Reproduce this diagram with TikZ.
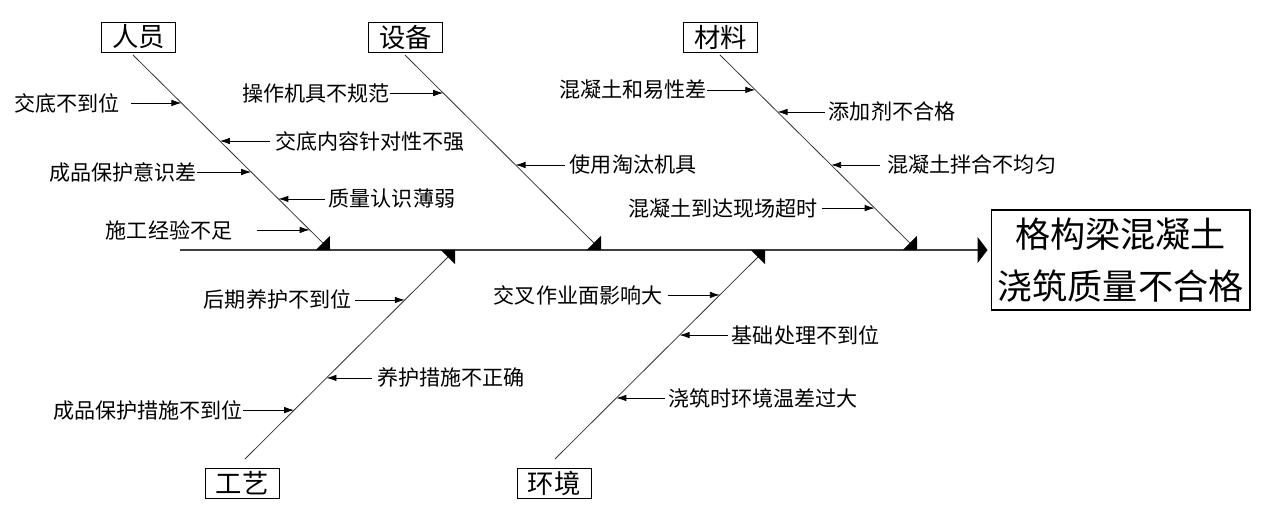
\documentclass[tikz,border=0pt]{standalone}
\usepackage{fontspec}
\setmainfont{Noto Sans CJK SC}
\usetikzlibrary{arrows.meta,positioning}

\begin{document}
\begin{tikzpicture}[x=0.02cm,y=-0.02cm,
  cat/.style={rectangle,draw,line width=0.5pt,minimum width=1.48cm,minimum height=0.6cm,inner sep=0pt,font=\fontsize{15pt}{18pt}\selectfont},
  cause/.style={inner sep=0pt,font=\fontsize{12pt}{14pt}\selectfont},
  effect/.style={rectangle,draw,line width=0.6pt,minimum width=5.18cm,minimum height=2cm,inner sep=0pt,align=center,font=\fontsize{20pt}{29.5pt}\selectfont},
  bone/.style={line width=0.45pt,black!80,-{Triangle[length=0.2cm,width=0.4cm,color=black]}},
  arr/.style={-{Latex[length=0.2cm,width=0.13cm]},line width=0.45pt},
  spine/.style={line width=0.8pt,black!75,-{Triangle[length=0.2cm,width=0.52cm,color=black]},shorten >=0.06cm}
]
\useasboundingbox (0,0) rectangle (1267,511);
\node[effect] (eff) at (1120.5,260) {格构梁混凝土\\浇筑质量不合格};
\coordinate (sp) at (180,250);
\draw[spine] (sp) -- (eff.west |- sp);

\node[cat] (ry) at (138.5,37) {人员};
\node[cat] (sb) at (405.5,37) {设备};
\node[cat] (cl) at (720.5,37) {材料};
\node[cat] (gy) at (242,483) {工艺};
\node[cat] (hj) at (554,483) {环境};

\coordinate (ry0) at (133,55);
\coordinate (ry1) at (330,250);
\coordinate (sb0) at (405,55);
\coordinate (sb1) at (601,250);
\coordinate (cl0) at (720,55);
\coordinate (cl1) at (917,250);
\coordinate (gy0) at (245,459);
\coordinate (gy1) at (455,250);
\coordinate (hj0) at (555,459);
\coordinate (hj1) at (765,250);

\draw[bone] (ry0) -- (ry1) coordinate[pos=0.246] (ry-a) coordinate[pos=0.441] (ry-b)
  coordinate[pos=0.6] (ry-c) coordinate[pos=0.738] (ry-d) coordinate[pos=0.897] (ry-e);
\draw[bone] (sb0) -- (sb1) coordinate[pos=0.195] (sb-a) coordinate[pos=0.564] (sb-b);
\draw[bone] (cl0) -- (cl1) coordinate[pos=0.179] (cl-a) coordinate[pos=0.292] (cl-b)
  coordinate[pos=0.564] (cl-c) coordinate[pos=0.785] (cl-d);
\draw[bone] (gy0) -- (gy1) coordinate[pos=0.761] (gy-a) coordinate[pos=0.388] (gy-b)
  coordinate[pos=0.234] (gy-c);
\draw[bone] (hj0) -- (hj1) coordinate[pos=0.785] (hj-a) coordinate[pos=0.593] (hj-b)
  coordinate[pos=0.292] (hj-c);

\node[cause, left=1.23cm of ry-a] (ry-ta) {交底不到位};
\node[cause, right=1.1cm of ry-b] (ry-tb) {交底内容针对性不强};
\node[cause, left=1.08cm of ry-c] (ry-tc) {成品保护意识差};
\node[cause, right=1.0cm of ry-d] (ry-td) {质量认识薄弱};
\node[cause, left=1.54cm of ry-e] (ry-te) {施工经验不足};
\draw[arr, shorten <=0.22cm] (ry-ta) -- (ry-a);
\draw[arr, shorten <=0.1cm] (ry-tb) -- (ry-b);
\draw[arr] (ry-tc) -- (ry-c);
\draw[arr, shorten <=0.06cm] (ry-td) -- (ry-d);
\draw[arr, shorten <=0.48cm] (ry-te) -- (ry-e);

\node[cause, left=1.06cm of sb-a] (sb-ta) {操作机具不规范};
\node[cause, right=1.08cm of sb-b] (sb-tb) {使用淘汰机具};
\draw[arr] (sb-ta) -- (sb-a);
\draw[arr, shorten <=0.1cm] (sb-tb) -- (sb-b);

\node[cause, left=0.96cm of cl-a] (cl-ta) {混凝土和易性差};
\node[cause, right=1.02cm of cl-b] (cl-tb) {添加剂不合格};
\node[cause, right=1.12cm of cl-c] (cl-tc) {混凝土拌合不均匀};
\node[cause, left=1.13cm of cl-d] (cl-td) {混凝土到达现场超时};
\draw[arr] (cl-ta) -- (cl-a);
\draw[arr, shorten <=0.08cm] (cl-tb) -- (cl-b);
\draw[arr, shorten <=0.14cm] (cl-tc) -- (cl-c);
\draw[arr, shorten <=0.08cm] (cl-td) -- (cl-d);

\node[cause, left=1.06cm of gy-a] (gy-ta) {后期养护不到位};
\node[cause, right=1.01cm of gy-b] (gy-tb) {养护措施不正确};
\node[cause, left=1.02cm of gy-c] (gy-tc) {成品保护措施不到位};
\draw[arr, shorten <=0.06cm] (gy-ta) -- (gy-a);
\draw[arr, shorten <=0.1cm] (gy-tb) -- (gy-b);
\draw[arr] (gy-tc) -- (gy-c);

\node[cause, left=1.14cm of hj-a] (hj-ta) {交叉作业面影响大};
\node[cause, right=1.04cm of hj-b] (hj-tb) {基础处理不到位};
\node[cause, right=1.03cm of hj-c] (hj-tc) {浇筑时环境温差过大};
\draw[arr, shorten <=0.1cm] (hj-ta) -- (hj-a);
\draw[arr, shorten <=0.08cm] (hj-tb) -- (hj-b);
\draw[arr, shorten <=0.06cm] (hj-tc) -- (hj-c);
\end{tikzpicture}
\end{document}
